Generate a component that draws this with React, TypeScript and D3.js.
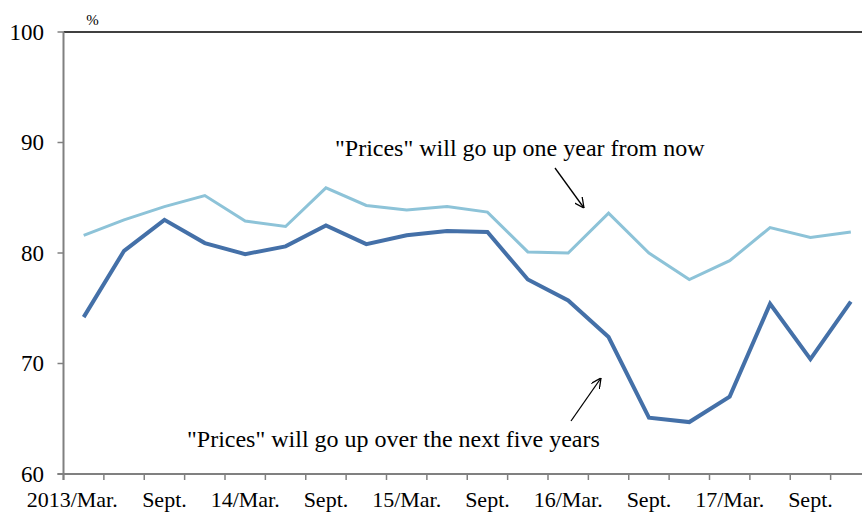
import React from 'react';
import * as d3 from 'd3';

// quarterly survey points, 2013/Mar. to 2017/Dec.
const quarters = [
  '2013Q1', '2013Q2', '2013Q3', '2013Q4',
  '2014Q1', '2014Q2', '2014Q3', '2014Q4',
  '2015Q1', '2015Q2', '2015Q3', '2015Q4',
  '2016Q1', '2016Q2', '2016Q3', '2016Q4',
  '2017Q1', '2017Q2', '2017Q3', '2017Q4',
];

// "Prices" will go up one year from now
const oneYear = [
  81.6, 83.0, 84.2, 85.2, 82.9, 82.4, 85.9, 84.3, 83.9, 84.2,
  83.7, 80.1, 80.0, 83.6, 80.0, 77.6, 79.3, 82.3, 81.4, 81.9,
];

// "Prices" will go up over the next five years
const fiveYears = [
  74.2, 80.2, 83.0, 80.9, 79.9, 80.6, 82.5, 80.8, 81.6, 82.0,
  81.9, 77.6, 75.7, 72.4, 65.1, 64.7, 67.0, 75.4, 70.4, 75.6,
];

const tickLabels = [
  '2013/Mar.', 'Sept.', '14/Mar.', 'Sept.', '15/Mar.',
  'Sept.', '16/Mar.', 'Sept.', '17/Mar.', 'Sept.',
];

const yTicks = [60, 70, 80, 90, 100];

const FONT = "'Liberation Serif'";
const GREY = '#808080';

const left = 63.5, right = 871, top = 32, bottom = 474;

const x = d3.scaleBand<string>().domain(quarters).range([left, right]).padding(0);
const y = d3.scaleLinear().domain([60, 100]).range([bottom, top]);
const cx = (q: string) => (x(q) as number) + x.bandwidth() / 2;

const line = d3.line<number>()
  .x((d, i) => cx(quarters[i]))
  .y(d => y(d));

function PriceChart() {
  return (
    <svg width={862} height={512}
      style={{ position: 'absolute', left: 0, top: 0, background: '#fff' }}>
      <defs>
        <marker id="arr" viewBox="0 0 10 10" refX={10} refY={5} markerWidth={10} markerHeight={10}
          markerUnits="userSpaceOnUse" orient="auto">
          <path d="M0,0 L10,5 L0,10" fill="none" stroke="#000" strokeWidth={1.3} />
        </marker>
      </defs>

      {/* top border */}
      <line x1={left} x2={862} y1={top} y2={top} stroke="#000" strokeWidth={1.5} />

      {/* y axis */}
      <line x1={left} x2={left} y1={top} y2={bottom + 6} stroke={GREY} strokeWidth={2} />
      {yTicks.map(t => (
        <g key={t}>
          <line x1={left - 6} x2={left} y1={y(t)} y2={y(t)} stroke={GREY} strokeWidth={1.5} />
          <text x={44} y={y(t)} dy="0.34em" textAnchor="end"
            style={{ fontFamily: FONT, fontSize: '23px' }}>{t}</text>
        </g>
      ))}

      {/* x axis */}
      <line x1={left - 6} x2={862} y1={bottom} y2={bottom} stroke={GREY} strokeWidth={2} />
      {quarters.map(q => (
        <line key={q} x1={x(q)} x2={x(q)} y1={bottom} y2={bottom + 6} stroke={GREY} strokeWidth={1.5} />
      ))}
      {tickLabels.map((l, i) => (
        <text key={i} x={cx(quarters[i * 2]) + (i === 0 ? 34 : 0)} y={507}
          textAnchor={i === 0 ? 'end' : 'middle'}
          style={{ fontFamily: FONT, fontSize: '22px' }}>{l}</text>
      ))}

      <text x={92.5} y={25} textAnchor="middle" style={{ fontFamily: FONT, fontSize: '15px' }}>%</text>

      <path d={line(oneYear) || ''} fill="none" stroke="#8DC3D8" strokeWidth={3} />
      <path d={line(fiveYears) || ''} fill="none" stroke="#4470A8" strokeWidth={4} />

      {/* annotations */}
      <text x={335} y={156} style={{ fontFamily: FONT, fontSize: '24px' }}>
        "Prices" will go up one year from now
      </text>
      <line x1={555} y1={168} x2={584} y2={208} stroke="#000" strokeWidth={1.3} markerEnd="url(#arr)" />

      <text x={187} y={447} style={{ fontFamily: FONT, fontSize: '24px' }}>
        "Prices" will go up over the next five years
      </text>
      <line x1={571} y1={421} x2={601} y2={378} stroke="#000" strokeWidth={1.3} markerEnd="url(#arr)" />
    </svg>
  );
}

export default function App() {
  return <PriceChart />;
}
